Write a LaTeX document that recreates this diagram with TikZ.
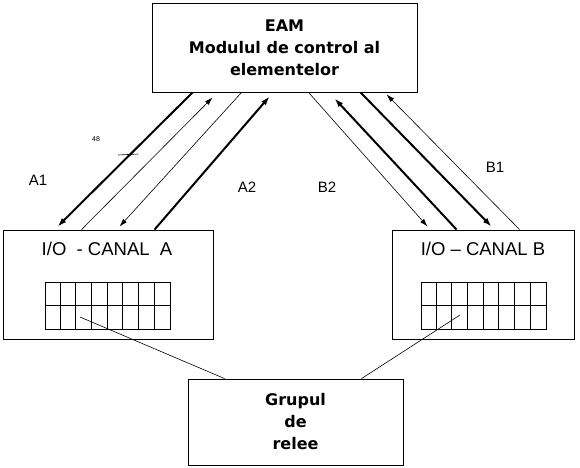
\documentclass[tikz,border=0pt]{standalone}
\usepackage{fontspec}
\setmainfont{Liberation Sans}
\newfontfamily\boldsans{DejaVu Sans}
\usepackage{tikz}
\usetikzlibrary{arrows.meta}

\begin{document}
\begin{tikzpicture}[%
      x=1pt, y=-1pt,
      box/.style={draw, line width=0.9pt, inner sep=0pt},
      boxtext/.style={font=\boldsans\bfseries\fontsize{16}{22}\selectfont, align=center},
      chan/.style={font=\fontsize{18.5}{20}\selectfont},
      lbl/.style={font=\fontsize{15}{16}\selectfont},
      relaygrid/.style={draw, line width=0.8pt, minimum width=125pt, minimum height=47pt, inner sep=0pt},
      heavy/.style={line width=2pt, -{Latex[length=9pt,width=6pt]}},
      light/.style={line width=0.6pt, -{Latex[length=8pt,width=5pt]}},
      wire/.style={line width=0.6pt}]
      \useasboundingbox (0,0) rectangle (580,467);
      \node[box, boxtext, minimum width=265pt, minimum height=89pt] (eam) at (284.5,47.5)
        {EAM\\Modulul de control al\\elementelor};
      \node[box, minimum width=210pt, minimum height=109pt] (canalA) at (108,284.5) {};
      \node[box, minimum width=182pt, minimum height=109pt] (canalB) at (483,284.5) {};
      \node[box, boxtext, minimum width=215pt, minimum height=86pt] (relee) at (295.5,422)
        {Grupul\\de\\relee};
      \node[chan] (titleA) at (107,249) {I/O \ - CANAL \ A};
      \node[chan] (titleB) at (483,249) {I/O -- CANAL B};
      % relay grids
      \node[relaygrid] (gridA) at (107.5,305.5) {};
      \node[relaygrid] (gridB) at (483.5,305.5) {};
      \foreach \g in {gridA,gridB} {
        \draw[line width=0.8pt] (\g.west) -- (\g.east);
        \foreach \i in {1,...,7}
          \draw[line width=0.8pt] ([xshift=\i*15.625pt]\g.north west) -- ([xshift=\i*15.625pt]\g.south west);
      }
      \coordinate (tapA) at (80,317);
      \coordinate (tapB) at (460,315);
      \draw[wire] (tapA) -- ([xshift=37pt]relee.north west);
      \draw[wire] (tapB) -- ([xshift=174pt]relee.north west);
      % channel A
      \draw[heavy] ([xshift=41pt]eam.south west) -- ([xshift=55pt,yshift=3pt]canalA.north west);
      \draw[light] ([xshift=79pt]canalA.north west) -- ([xshift=61pt,yshift=-5pt]eam.south west);
      \draw[light] ([xshift=90pt]eam.south west) -- ([xshift=117pt,yshift=3pt]canalA.north west);
      \draw[heavy] ([xshift=152pt]canalA.north west) -- ([xshift=118pt,yshift=-4pt]eam.south west);
      % channel B
      \draw[light] ([xshift=157pt]eam.south west) -- ([xshift=36pt,yshift=3pt]canalB.north west);
      \draw[heavy] ([xshift=65pt]canalB.north west) -- ([xshift=183pt,yshift=-6pt]eam.south west);
      \draw[heavy] ([xshift=209pt]eam.south west) -- ([xshift=100pt,yshift=3pt]canalB.north west);
      \draw[light] ([xshift=128pt]canalB.north west) -- ([xshift=235pt,yshift=-2pt]eam.south west);
      \coordinate (tickL) at (118,155);
      \coordinate (tickR) at (138,154);
      \draw[wire] (tickL) -- (tickR);
      \node[font=\fontsize{7}{8}\selectfont] (w48) at (96,139) {48};
      \node[lbl] (la1) at (38,180) {A1};
      \node[lbl] (la2) at (247,187) {A2};
      \node[lbl] (lb2) at (327,187) {B2};
      \node[lbl] (lb1) at (495,167) {B1};
\end{tikzpicture}
\end{document}
